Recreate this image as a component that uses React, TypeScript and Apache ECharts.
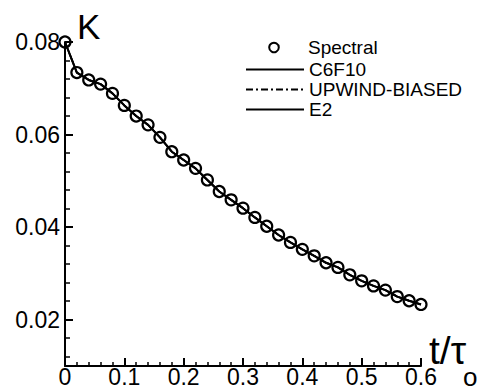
import React, { useEffect, useRef } from "react";
import * as echarts from "echarts";

// time t/tau_o
const tValues = [
  0, 0.02, 0.04, 0.06, 0.08, 0.1, 0.12, 0.14, 0.16, 0.18, 0.2, 0.22, 0.24, 0.26, 0.28, 0.3,
  0.32, 0.34, 0.36, 0.38, 0.4, 0.42, 0.44, 0.46, 0.48, 0.5, 0.52, 0.54, 0.56, 0.58, 0.6,
];
// Spectral reference (circles)
const spectralK = [
  0.08, 0.0734, 0.0718, 0.0709, 0.0689, 0.0663, 0.064, 0.0621, 0.0594, 0.0563, 0.0545,
  0.0527, 0.0502, 0.0477, 0.0459, 0.0441, 0.0421, 0.0402, 0.0383, 0.0367, 0.0352, 0.0338,
  0.0323, 0.0313, 0.0297, 0.0284, 0.0273, 0.0264, 0.025, 0.0241, 0.0233,
];
const c6f10K = [
  0.08, 0.0734, 0.0718, 0.0709, 0.0689, 0.0663, 0.064, 0.0621, 0.0594, 0.0563, 0.0545,
  0.0527, 0.0502, 0.0477, 0.0459, 0.0441, 0.0421, 0.0402, 0.0383, 0.0367, 0.0352, 0.0338,
  0.0323, 0.0313, 0.0297, 0.0284, 0.0273, 0.0264, 0.025, 0.0241, 0.0233,
];
const upwindK = [
  0.08, 0.0734, 0.0718, 0.0709, 0.0689, 0.0663, 0.064, 0.0621, 0.0594, 0.0563, 0.0545,
  0.0527, 0.0502, 0.0477, 0.0459, 0.0441, 0.0421, 0.0402, 0.0383, 0.0367, 0.0352, 0.0338,
  0.0323, 0.0313, 0.0297, 0.0284, 0.0273, 0.0264, 0.025, 0.0241, 0.0233,
];
const e2K = [
  0.08, 0.0734, 0.0718, 0.0709, 0.0689, 0.0663, 0.064, 0.0621, 0.0594, 0.0563, 0.0545,
  0.0527, 0.0502, 0.0477, 0.0459, 0.0441, 0.0421, 0.0402, 0.0383, 0.0367, 0.0352, 0.0338,
  0.0323, 0.0313, 0.0297, 0.0284, 0.0273, 0.0264, 0.025, 0.0241, 0.0233,
];
const seriesNames = ["Spectral", "C6F10", "UPWIND-BIASED", "E2"];
const yTitle = "K";
const xTitleMain = "t/τ";
const xTitleSub = "o";

const FONT = "'Liberation Sans', Arial, Helvetica, sans-serif";

const zip = (xs: number[], ys: number[]) => xs.map((x, i) => [x, ys[i]]);

export default function App() {
  const ref = useRef<HTMLDivElement>(null);
  useEffect(() => {
    if (!ref.current) return;
    const chart = echarts.init(ref.current, null, { renderer: "svg" });
    const W = 477;
    const H = 389;
    const left = 65;
    const right = W - 421;
    const top = 42;
    const bottomPx = 366;
    const yMin = 0.01;
    const yMax = 0.08;
    const pxPerUnit = (bottomPx - top) / (yMax - yMin);
    const yPix = (v: number) => bottomPx - (v - yMin) * pxPerUnit;

    const hiddenX = (gi: number) => ({
      type: "value",
      gridIndex: gi,
      min: 0,
      max: 0.6,
      show: false,
    });
    const legendText = { fontSize: 19, color: "#000", fontFamily: FONT };
    const legendCenters = [48, 70, 90, 110];
    const hiddenSymbol = { color: "rgba(0,0,0,0)", borderColor: "rgba(0,0,0,0)", borderWidth: 0, opacity: 0 };

    chart.setOption({
      animation: false,
      backgroundColor: "#fff",
      grid: [
        { left, right, top, bottom: H - bottomPx, outerBoundsMode: "none", containLabel: false },
        { left, right, top, bottom: H - yPix(0.02), outerBoundsMode: "none", containLabel: false },
        { left, right, top, bottom: H - yPix(0.012), outerBoundsMode: "none", containLabel: false },
      ],
      xAxis: [
        {
          type: "value",
          gridIndex: 0,
          min: 0,
          max: 0.6,
          interval: 0.1,
          axisLine: { show: true, lineStyle: { color: "#000", width: 2 } },
          axisTick: { show: true, inside: true, length: 8, lineStyle: { color: "#000", width: 2 } },
          minorTick: { show: true, splitNumber: 5, length: 4, lineStyle: { color: "#000", width: 1.5 } },
          splitLine: { show: false },
          axisLabel: {
            show: true,
            margin: -1,
            fontSize: 23,
            color: "#000",
            fontFamily: FONT,
            formatter: (v: number) => String(Math.round(v * 10) / 10),
          },
        },
        hiddenX(1),
        hiddenX(2),
      ],
      yAxis: [
        {
          type: "value",
          gridIndex: 0,
          min: yMin,
          max: yMax,
          axisLine: { show: true, lineStyle: { color: "#000", width: 2 } },
          axisTick: { show: false },
          axisLabel: { show: false },
          splitLine: { show: false },
        },
        {
          type: "value",
          gridIndex: 1,
          min: 0.02,
          max: 0.08,
          interval: 0.02,
          axisLine: { show: false },
          axisTick: { show: true, inside: true, length: 8, lineStyle: { color: "#000", width: 2 } },
          splitLine: { show: false },
          axisLabel: {
            show: true,
            margin: 5,
            fontSize: 23,
            color: "#000",
            fontFamily: FONT,
            formatter: (v: number) => v.toFixed(2),
          },
        },
        {
          type: "value",
          gridIndex: 2,
          min: 0.012,
          max: 0.08,
          interval: 0.004,
          axisLine: { show: false },
          axisTick: { show: true, inside: true, length: 5, lineStyle: { color: "#000", width: 1.5 } },
          splitLine: { show: false },
          axisLabel: { show: false },
        },
      ],
      legend: seriesNames.map((name, i) => ({
        show: true,
        selectedMode: false,
        orient: "vertical",
        align: "left",
        left: 245,
        top: legendCenters[i] - 10,
        padding: 0,
        itemWidth: 58,
        itemHeight: i === 0 ? 12 : 9,
        textStyle: legendText,
        itemStyle:
          i === 0
            ? { color: "rgba(0,0,0,0)", borderColor: "#000", borderWidth: 2 }
            : hiddenSymbol,
        data: [name],
      })),
      series: [
        {
          name: seriesNames[0],
          type: "line",
          xAxisIndex: 0,
          yAxisIndex: 0,
          data: zip(tValues, spectralK),
          symbol: "circle",
          showSymbol: true,
          symbolSize: 11,
          lineStyle: { width: 0, opacity: 0 },
          itemStyle: { color: "rgba(0,0,0,0)", borderColor: "#000", borderWidth: 2.2 },
          z: 3,
        },
        {
          name: seriesNames[1],
          type: "line",
          xAxisIndex: 0,
          yAxisIndex: 0,
          data: zip(tValues, c6f10K),
          symbol: "none",
          lineStyle: { color: "#000", width: 2 },
          itemStyle: { color: "#000" },
          z: 2,
        },
        {
          name: seriesNames[2],
          type: "line",
          xAxisIndex: 0,
          yAxisIndex: 0,
          data: zip(tValues, upwindK),
          symbol: "none",
          lineStyle: { color: "#000", width: 1.5, type: [7, 3, 2, 3] },
          itemStyle: { color: "#000" },
          z: 2,
        },
        {
          name: seriesNames[3],
          type: "line",
          xAxisIndex: 0,
          yAxisIndex: 0,
          data: zip(tValues, e2K),
          symbol: "none",
          lineStyle: { color: "#000", width: 2 },
          itemStyle: { color: "#000" },
          z: 2,
        },
      ],
      graphic: [
        {
          type: "text",
          x: 77,
          y: 26,
          style: {
            text: yTitle,
            fontSize: 35,
            fontFamily: FONT,
            fill: "#000",
            textAlign: "left",
            textVerticalAlign: "middle",
          },
        },
        {
          type: "text",
          x: 429,
          y: 350,
          style: {
            text: xTitleMain,
            fontSize: 39,
            fontFamily: FONT,
            fill: "#000",
            textAlign: "left",
            textVerticalAlign: "middle",
          },
        },
        {
          type: "text",
          x: 463,
          y: 377,
          style: {
            text: xTitleSub,
            fontSize: 26,
            fontFamily: FONT,
            fill: "#000",
            textAlign: "left",
            textVerticalAlign: "middle",
          },
        },
      ],
    });
    return () => chart.dispose();
  }, []);
  return (
    <div
      ref={ref}
      style={{ position: "absolute", left: 0, top: 0, width: 477, height: 389, background: "#fff" }}
    />
  );
}
